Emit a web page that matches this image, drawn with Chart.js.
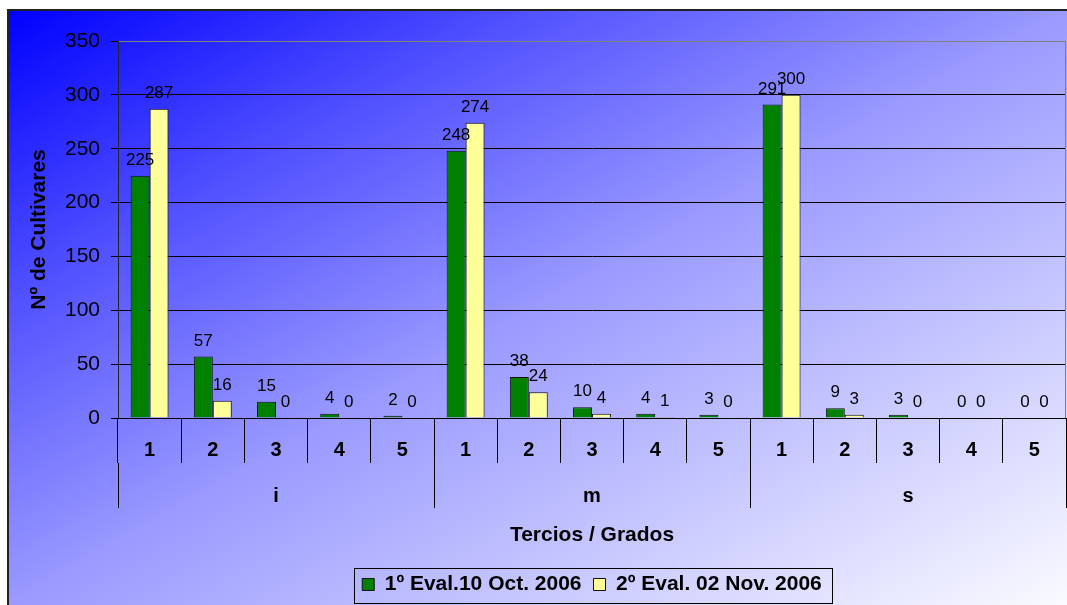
<!DOCTYPE html>
<html>
<head>
<meta charset="utf-8">
<title>Nº de Cultivares</title>
<script src="https://cdn.jsdelivr.net/npm/chart.js@4.4.0/dist/chart.umd.min.js"></script>
<style>
    body { margin: 0; background: #fff; }
    canvas { display: block; }
</style>
</head>
<body>
<canvas id="barChart" width="1067" height="605"></canvas>
<script>
//Datos
let grados = ['1', '2', '3', '4', '5', '1', '2', '3', '4', '5', '1', '2', '3', '4', '5'];
let tercios = ['i', 'm', 's'];
let evalOct = [225, 57, 15, 4, 2, 248, 38, 10, 4, 3, 291, 9, 3, 0, 0];
let evalNov = [287, 16, 0, 0, 0, 274, 24, 4, 1, 0, 300, 3, 0, 0, 0];
let yMax = 350;
let yStep = 50;

let fontFamily = '"Liberation Sans", Arial, sans-serif';
Chart.defaults.font.family = fontFamily;
Chart.defaults.color = '#000';

//Fondo degradado + marco
const backgroundPlugin = {
    id: 'background',
    beforeDraw: function (chart) {
        let ctx = chart.ctx;
        let x0 = 8, y0 = 10;
        let w = chart.width - x0;
        let h = chart.height - y0;
        let k = 2 * w * h / (w * w + h * h);
        ctx.save();
        ctx.fillStyle = '#fff';
        ctx.fillRect(0, 0, chart.width, chart.height);
        let grad = ctx.createLinearGradient(x0, y0, x0 + h * k, y0 + w * k);
        grad.addColorStop(0, '#0000ff');
        grad.addColorStop(0.25, '#5252ff');
        grad.addColorStop(0.5, '#9a9aff');
        grad.addColorStop(1, '#fafaff');
        ctx.fillStyle = grad;
        ctx.fillRect(x0, y0, w, h);
        ctx.strokeStyle = '#222';
        ctx.lineWidth = 2;
        ctx.beginPath();
        ctx.moveTo(x0, chart.height);
        ctx.lineTo(x0, y0);
        ctx.lineTo(chart.width, y0);
        ctx.stroke();
        ctx.restore();
    }
};

//Borde derecho del area
const plotBorderPlugin = {
    id: 'plotBorder',
    beforeDatasetsDraw: function (chart) {
        let a = chart.chartArea;
        let ctx = chart.ctx;
        ctx.save();
        ctx.strokeStyle = '#808080';
        ctx.lineWidth = 1;
        ctx.beginPath();
        ctx.moveTo(Math.round(a.right) - 0.5, a.top);
        ctx.lineTo(Math.round(a.right) - 0.5, a.bottom);
        ctx.stroke();
        ctx.restore();
    }
};

//Etiquetas de valores
const valueLabelsPlugin = {
    id: 'valueLabels',
    afterDatasetsDraw: function (chart) {
        let ctx = chart.ctx;
        ctx.save();
        ctx.font = '17px ' + fontFamily;
        ctx.fillStyle = '#000';
        ctx.textAlign = 'center';
        ctx.textBaseline = 'alphabetic';
        chart.data.datasets.forEach(function (ds, i) {
            chart.getDatasetMeta(i).data.forEach(function (bar, j) {
                ctx.fillText(ds.data[j], bar.x, bar.y - 11);
            });
        });
        ctx.restore();
    }
};

//Marco de la leyenda
const legendBoxPlugin = {
    id: 'legendBox',
    afterDraw: function (chart) {
        let boxes = chart.legend.legendHitBoxes;
        if (!boxes || !boxes.length) return;
        let first = boxes[0];
        let last = boxes[boxes.length - 1];
        let cy = first.top + first.height / 2;
        let left = Math.round(first.left - 8) + 0.5;
        let right = Math.round(last.left + last.width + 10) + 0.5;
        let ctx = chart.ctx;
        ctx.save();
        ctx.strokeStyle = '#000';
        ctx.lineWidth = 1;
        ctx.strokeRect(left, Math.round(cy - 17) + 0.5, right - left, 35);
        ctx.restore();
    }
};

let ctx = document.getElementById('barChart');
let myChart = new Chart(ctx, {
    type: 'bar',
    data: {
        labels: grados,
        datasets: [{
            label: '1º Eval.10 Oct. 2006',
            data: evalOct,
            backgroundColor: '#008000',
            borderColor: '#111',
            borderWidth: 1
        }, {
            label: '2º Eval. 02 Nov. 2006',
            data: evalNov,
            backgroundColor: '#ffff99',
            borderColor: '#111',
            borderWidth: 1
        }]
    },
    options: {
        responsive: false,
        animation: false,
        layout: {
            padding: { left: 9, top: 41, right: 1, bottom: 0 }
        },
        datasets: {
            bar: { categoryPercentage: 0.6, barPercentage: 1 }
        },
        plugins: {
            legend: {
                position: 'bottom',
                fullSize: false,
                labels: {
                    boxWidth: 12,
                    boxHeight: 12,
                    padding: 12,
                    color: '#000',
                    font: { size: 21, weight: 'bold' }
                }
            },
            tooltip: { enabled: false }
        },
        scales: {
            x: {
                afterFit: function (scale) { scale.height = 45; },
                ticks: {
                    padding: -25,
                    autoSkip: false,
                    maxRotation: 0,
                    color: '#000',
                    font: { size: 20, weight: 'bold' }
                },
                grid: { offset: true, drawOnChartArea: false, tickLength: 45, color: '#000' },
                border: { color: '#000' }
            },
            x2: {
                type: 'category',
                labels: tercios,
                position: 'bottom',
                weight: 1,
                offset: true,
                afterFit: function (scale) { scale.height = 99; },
                ticks: {
                    padding: -24,
                    maxRotation: 0,
                    color: '#000',
                    font: { size: 20, weight: 'bold' }
                },
                grid: { offset: true, drawOnChartArea: false, tickLength: 45, color: '#000' },
                border: { display: false },
                title: {
                    display: true,
                    text: 'Tercios / Grados',
                    color: '#000',
                    font: { size: 21, weight: 'bold' },
                    padding: { top: 0, bottom: 14 }
                }
            },
            y: {
                min: 0,
                max: yMax,
                afterFit: function (scale) { scale.width = 109; },
                ticks: {
                    stepSize: yStep,
                    padding: 11,
                    color: '#000',
                    font: { size: 21 }
                },
                grid: {
                    color: function (c) { return c.tick && c.tick.value === yMax ? '#808080' : '#000'; },
                    tickColor: '#000',
                    tickLength: 7
                },
                border: { color: '#222' },
                title: {
                    display: true,
                    text: 'Nº de Cultivares',
                    color: '#000',
                    font: { size: 21, weight: 'bold' },
                    padding: { top: 18, bottom: 0 }
                }
            }
        }
    },
    plugins: [backgroundPlugin, plotBorderPlugin, valueLabelsPlugin, legendBoxPlugin]
});
</script>
</body>
</html>
